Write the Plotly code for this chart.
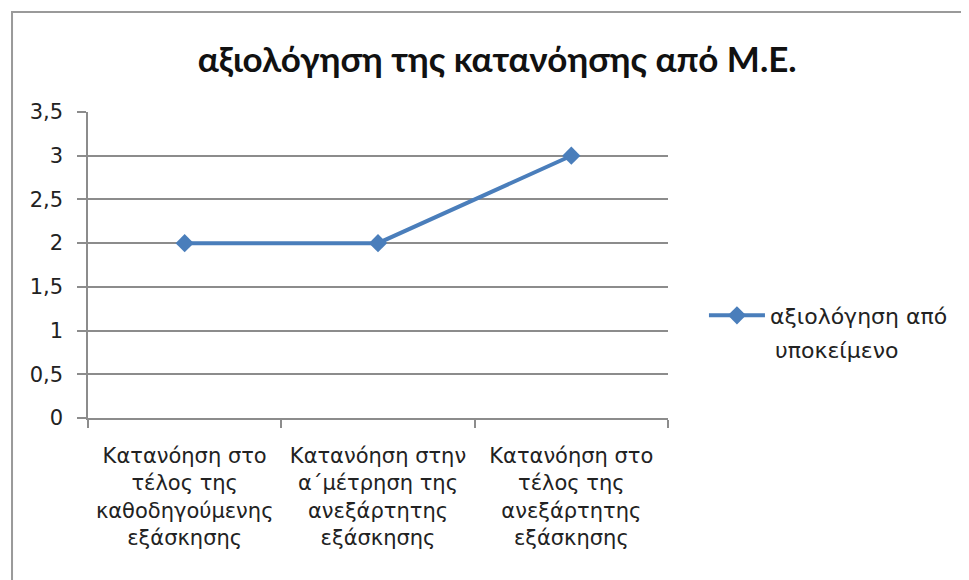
import plotly.graph_objects as go

# data
categories = [
    "Κατανόηση στο<br>τέλος της<br>καθοδηγούμενης<br>εξάσκησης",
    "Κατανόηση στην<br>α΄μέτρηση της<br>ανεξάρτητης<br>εξάσκησης",
    "Κατανόηση στο<br>τέλος της<br>ανεξάρτητης<br>εξάσκησης",
]
scores = [2, 2, 3]
series_name = "αξιολόγηση από"
series_name_2 = "υποκείμενο"
y_ticks = [0, 0.5, 1, 1.5, 2, 2.5, 3, 3.5]

fig = go.Figure(go.Scatter(
    x=categories,
    y=scores,
    mode="lines+markers",
    name=series_name,
    line=dict(color="#4a7ebb", width=4),
    marker=dict(symbol="diamond", size=14, color="#4a7ebb"),
))

axis_font = dict(family="DejaVu Sans", size=21, color="#222222")

# page has an 8px body margin, so the figure is a bit smaller than the window
fig.update_layout(
    width=961, height=572,
    margin=dict(l=80, r=301, t=104, b=162),
    paper_bgcolor="white",
    plot_bgcolor="white",
    separators=",.",
    title=dict(
        text="<b>αξιολόγηση της κατανόησης από Μ.Ε.</b>",
        x=0.509, xanchor="center", y=0.909, yanchor="middle",
        font=dict(family="Lato", size=35, color="#111111"),
    ),
    showlegend=True,
    legend=dict(
        x=1.062, y=0.335, xanchor="left", yanchor="middle",
        font=dict(family="DejaVu Sans", size=22, color="#222222"),
        bgcolor="rgba(0,0,0,0)",
        itemwidth=56,
    ),
    annotations=[dict(
        text=series_name_2, xref="paper", yref="paper",
        x=1.181, y=0.22, xanchor="left", yanchor="middle",
        showarrow=False,
        font=dict(family="DejaVu Sans", size=22, color="#222222"),
    )],
    xaxis=dict(
        type="category",
        tickson="boundaries",
        ticks="outside", ticklen=8, tickcolor="#8c8c8c", tickwidth=1.5,
        showline=True, linecolor="#8c8c8c", linewidth=1.5,
        showgrid=False,
        tickfont=axis_font,
        ticklabelstandoff=18,
        range=[-0.5, 2.5],
    ),
    yaxis=dict(
        range=[0, 3.5],
        tickvals=y_ticks,
        ticks="outside", ticklen=9, tickcolor="#8c8c8c", tickwidth=1.5,
        showline=True, linecolor="#8c8c8c", linewidth=1.5,
        showgrid=True, gridcolor="#8c8c8c", gridwidth=1.5,
        zeroline=False,
        tickfont=axis_font,
        ticklabelstandoff=10,
    ),
    shapes=[dict(
        type="rect", xref="paper", yref="paper",
        x0=-0.131, x1=1.6, y0=-0.6, y1=1.327,
        line=dict(color="#9a9a9a", width=2),
        layer="below",
    )],
)

fig.write_html("out.html")
